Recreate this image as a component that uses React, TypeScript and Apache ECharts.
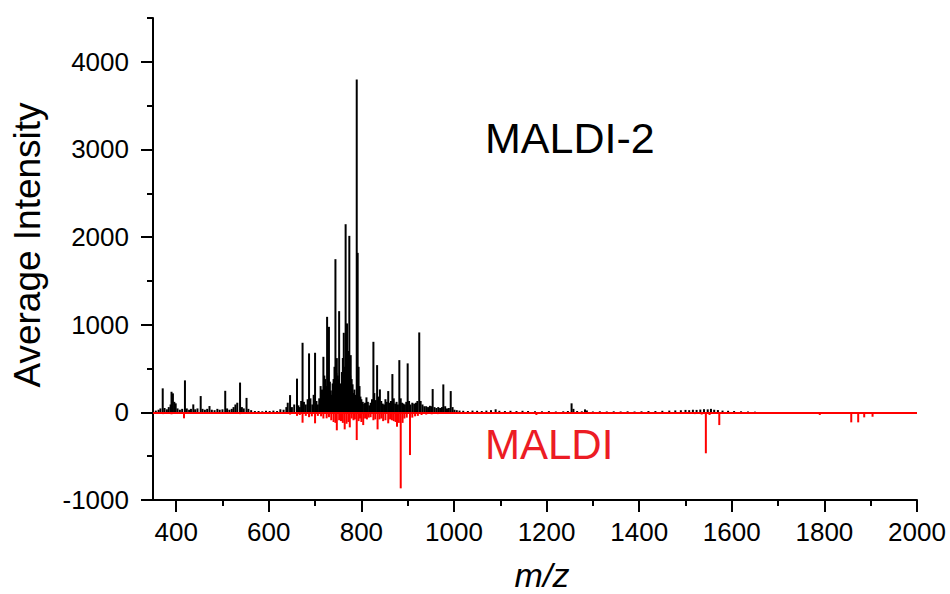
import React, { useEffect, useRef } from "react";
import * as echarts from "echarts";

// ---- Data (m/z, average intensity) ----
const maldi2LowMass: [number, number][] = [
  [356, 20], [362, 30], [366, 45], [371, 274], [375, 50], [380, 35], [384, 60], [388, 90],
  [390, 235], [393, 217], [396, 120], [399, 103], [403, 45], [408, 30], [413, 40], [419, 365],
  [423, 45], [428, 30], [432, 40], [437, 91], [441, 35], [446, 45], [453, 186], [457, 40],
  [462, 30], [467, 40], [472, 72], [477, 30], [483, 25], [489, 40], [494, 30], [500, 35],
  [506, 246], [510, 45], [515, 30], [520, 40], [524, 60], [528, 90], [532, 110], [538, 340],
  [542, 60], [546, 45], [552, 165], [556, 40], [562, 25], [570, 15], [578, 15], [586, 12],
  [594, 18], [602, 15], [610, 20], [618, 15], [625, 35], [632, 30], [638, 60], [641, 110],
  [646, 197], [650, 60], [655, 90],
];

const maldi2Cluster: [number, number][] = [
  [661, 385], [664, 80], [667, 60], [670, 130], [673, 794], [676, 120], [680, 90], [684, 150],
  [687, 673], [690, 160], [694, 90], [697, 200], [700, 680], [703, 130], [706, 90], [709, 160],
  [712, 300], [715, 260], [718, 634], [720, 420], [722, 380], [724, 300], [726, 1090], [728, 420],
  [730, 976], [732, 350], [734, 250], [736, 200], [738, 330], [740, 380], [742, 520], [744, 1748],
  [746, 450], [747, 619], [749, 420], [751, 380], [752, 1155], [754, 330], [756, 300], [758, 460],
  [760, 620], [762, 908], [764, 520], [766, 2147], [768, 480], [769, 1015], [771, 420], [772, 700],
  [774, 2014], [776, 420], [777, 653], [779, 380], [781, 320], [783, 220], [785, 260], [787, 200],
  [790, 3797], [792, 1820], [794, 520], [796, 300], [798, 180], [800, 150], [803, 120], [806, 95],
  [808, 110], [811, 171], [814, 120], [817, 80], [820, 110], [823, 150], [826, 805], [828, 220],
  [831, 140], [834, 539], [836, 180], [838, 120], [840, 262], [843, 130], [846, 100], [849, 90],
  [852, 150], [855, 120], [858, 243], [861, 110], [864, 130], [867, 437], [870, 160], [873, 100],
  [876, 120], [879, 90], [882, 596], [885, 160], [888, 110], [891, 100], [894, 90], [897, 120],
  [900, 559], [903, 130], [906, 90], [910, 110], [914, 100], [918, 110], [921, 130], [925, 912],
  [928, 130], [932, 90], [936, 70], [940, 70], [944, 60], [948, 75], [951, 70], [954, 266],
  [958, 60], [962, 50], [966, 60], [970, 50], [974, 60], [977, 319], [981, 70], [985, 45],
  [989, 50], [993, 243], [997, 60], [1001, 30], [1006, 25],
];

const maldi2HighMass: [number, number][] = [
  [1012, 20], [1020, 18], [1030, 15], [1040, 20], [1050, 18], [1060, 15], [1070, 20], [1080, 25],
  [1090, 35], [1098, 18], [1110, 15], [1122, 18], [1135, 15], [1148, 18], [1160, 15], [1175, 12],
  [1190, 12], [1205, 14], [1220, 10], [1236, 12], [1246, 15], [1254, 103], [1258, 40], [1266, 15],
  [1276, 12], [1283, 34], [1287, 22], [1300, 10], [1315, 12], [1330, 10], [1345, 12], [1360, 10],
  [1375, 12], [1390, 10], [1405, 12], [1420, 15], [1435, 15], [1450, 18], [1465, 20], [1478, 22],
  [1490, 24], [1500, 28], [1508, 25], [1516, 30], [1524, 28], [1532, 32], [1540, 36], [1548, 34],
  [1555, 40], [1562, 30], [1570, 26], [1580, 20], [1592, 18], [1605, 15], [1620, 12], [1635, 10],
  [1650, 8],
];

const maldiPeaks: [number, number][] = [
  [362, -15], [372, -20], [390, -22], [404, -18], [417, -68], [430, -18], [452, -15], [480, -10],
  [506, -15], [538, -20], [552, -12], [600, -10], [641, -18], [646, -25], [661, -40], [667, -30],
  [673, -118], [680, -40], [687, -55], [693, -45], [700, -125], [706, -40], [713, -45], [718, -70],
  [725, -68], [730, -55], [735, -90], [740, -110], [744, -120], [747, -205], [752, -90], [756, -100],
  [760, -120], [764, -194], [768, -130], [772, -110], [775, -171], [779, -70], [783, -90], [786, -80],
  [790, -316], [794, -100], [797, -70], [800, -110], [804, -145], [808, -70], [812, -80], [816, -60],
  [820, -55], [826, -90], [830, -80], [835, -194], [839, -80], [843, -70], [847, -100], [852, -90],
  [858, -125], [862, -80], [866, -90], [870, -100], [874, -110], [877, -164], [881, -120],
  [885, -867], [889, -120], [893, -70], [898, -60], [905, -487], [910, -60], [916, -45], [922, -40],
  [930, -30], [940, -25], [952, -22], [965, -20], [980, -18], [995, -15], [1020, -10], [1060, -10],
  [1100, -12], [1140, -10], [1178, -30], [1220, -8], [1260, -10], [1320, -8], [1380, -10],
  [1430, -12], [1470, -14], [1500, -18], [1520, -20], [1535, -25], [1544, -467], [1552, -30],
  [1573, -145], [1590, -15], [1620, -12], [1700, -10], [1750, -10], [1790, -30], [1815, -15],
  [1840, -15], [1858, -114], [1873, -114], [1886, -57], [1904, -50], [1930, -10], [1960, -8],
];

const xLabelValues = [400, 600, 800, 1000, 1200, 1400, 1600, 1800, 2000];
const xMinorValues = [500, 700, 900, 1100, 1300, 1500, 1700, 1900];
const yLabelValues = [-1000, 0, 1000, 2000, 3000, 4000];
const yMinorValues = [-500, 500, 1500, 2500, 3500, 4500];

const FONT = "'Liberation Sans', Arial, sans-serif";

export default function App() {
  const ref = useRef<HTMLDivElement>(null);

  useEffect(() => {
    if (!ref.current) return;
    const chart = echarts.init(ref.current, undefined, { renderer: "svg" });

    const blackData = [...maldi2LowMass, ...maldi2Cluster, ...maldi2HighMass];

    const axisLine = { show: true, onZero: false, lineStyle: { color: "#000", width: 2 } };
    const plain = (v: number) => String(v);

    chart.setOption({
      animation: false,
      backgroundColor: "#fff",
      grid: { left: 153, right: 33, top: 18, bottom: 94, containLabel: false, outerBoundsMode: "none" },
      xAxis: [
        {
          type: "value",
          min: 350,
          max: 2000,
          position: "bottom",
          axisLine,
          splitLine: { show: false },
          axisTick: {
            show: true,
            inside: false,
            length: 12,
            lineStyle: { color: "#000", width: 2 },
            customValues: xLabelValues,
          },
          axisLabel: {
            show: true,
            color: "#000",
            fontSize: 26,
            fontFamily: FONT,
            margin: 19,
            formatter: plain,
            customValues: xLabelValues,
          },
        },
        {
          type: "value",
          min: 350,
          max: 2000,
          position: "bottom",
          axisLine: { show: false, onZero: false },
          splitLine: { show: false },
          axisTick: {
            show: true,
            inside: false,
            length: 6,
            lineStyle: { color: "#000", width: 2 },
            customValues: xMinorValues,
          },
          axisLabel: { show: false },
        },
      ],
      yAxis: [
        {
          type: "value",
          min: -1000,
          max: 4500,
          position: "left",
          axisLine,
          splitLine: { show: false },
          axisTick: {
            show: true,
            inside: false,
            length: 12,
            lineStyle: { color: "#000", width: 2 },
            customValues: yLabelValues,
          },
          axisLabel: {
            show: true,
            color: "#000",
            fontSize: 26,
            fontFamily: FONT,
            margin: 24,
            formatter: plain,
            customValues: yLabelValues,
          },
        },
        {
          type: "value",
          min: -1000,
          max: 4500,
          position: "left",
          axisLine: { show: false, onZero: false },
          splitLine: { show: false },
          axisTick: {
            show: true,
            inside: false,
            length: 6,
            lineStyle: { color: "#000", width: 2 },
            customValues: yMinorValues,
          },
          axisLabel: { show: false },
        },
      ],
      series: [
        {
          name: "MALDI-2",
          type: "bar",
          xAxisIndex: 0,
          yAxisIndex: 0,
          data: blackData,
          barWidth: 2,
          barGap: "-100%",
          itemStyle: { color: "#000" },
          z: 2,
        },
        {
          name: "MALDI",
          type: "bar",
          xAxisIndex: 0,
          yAxisIndex: 0,
          data: maldiPeaks,
          barWidth: 2,
          barGap: "-100%",
          itemStyle: { color: "#ff0000" },
          z: 3,
          markLine: {
            silent: true,
            symbol: ["none", "none"],
            label: { show: false },
            lineStyle: { color: "#ff0000", width: 2, type: "solid" },
            data: [{ yAxis: 0 }],
          },
        },
      ],
      graphic: [
        {
          type: "text",
          x: 27,
          y: 245,
          rotation: Math.PI / 2,
          style: {
            text: "Average Intensity",
            fontSize: 37,
            fontFamily: FONT,
            fill: "#000",
            align: "center",
            verticalAlign: "middle",
          },
        },
        {
          type: "text",
          x: 542,
          y: 575,
          style: {
            text: "m/z",
            fontSize: 34,
            fontStyle: "italic",
            fontFamily: FONT,
            fill: "#000",
            align: "center",
            verticalAlign: "middle",
          },
        },
        {
          type: "text",
          x: 485,
          y: 138,
          style: {
            text: "MALDI-2",
            fontSize: 43,
            fontFamily: FONT,
            fill: "#000",
            align: "left",
            verticalAlign: "middle",
          },
        },
        {
          type: "text",
          x: 485,
          y: 444,
          style: {
            text: "MALDI",
            fontSize: 42,
            fontFamily: FONT,
            fill: "#ec1c24",
            align: "left",
            verticalAlign: "middle",
          },
        },
      ],
    });

    return () => chart.dispose();
  }, []);

  return (
    <div
      ref={ref}
      style={{ position: "fixed", left: 0, top: 0, width: 950, height: 594 }}
    />
  );
}
